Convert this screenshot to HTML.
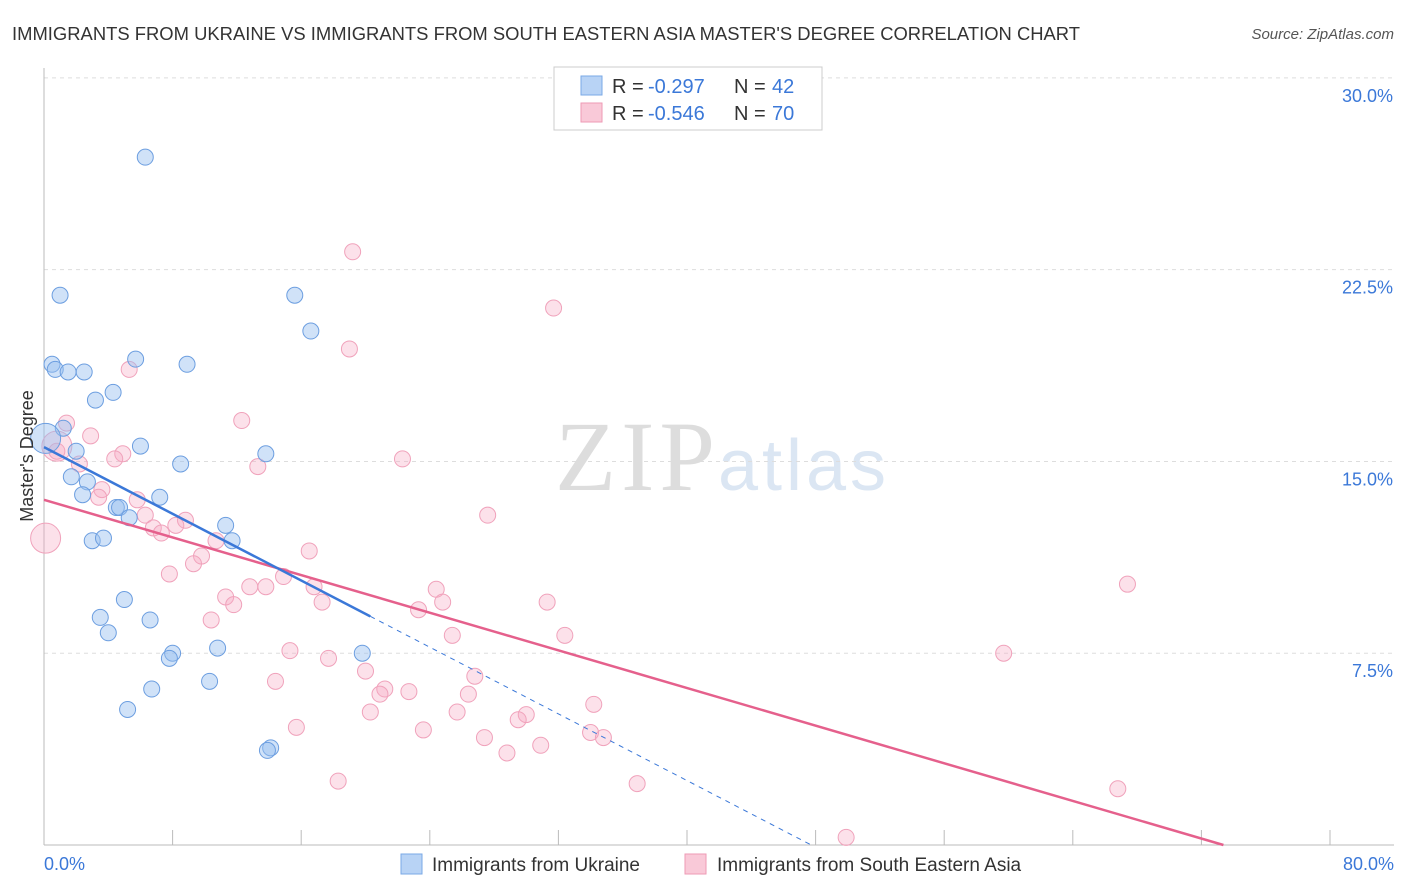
<!DOCTYPE html>
<html><head><meta charset="utf-8"><style>
body{margin:0;background:#fff;font-family:"Liberation Sans",sans-serif;}
svg{display:block}
</style></head><body>
<svg id="c" width="1406" height="892" xmlns="http://www.w3.org/2000/svg">
<text x="12" y="40" font-size="18.4" fill="#333" textLength="1068">IMMIGRANTS FROM UKRAINE VS IMMIGRANTS FROM SOUTH EASTERN ASIA MASTER'S DEGREE CORRELATION CHART</text>
<text x="1394" y="39" font-size="15" fill="#555" font-style="italic" text-anchor="end">Source: ZipAtlas.com</text>
<text x="555" y="490" font-size="100" fill="#ddd" textLength="160" font-family="Liberation Serif">ZIP</text>
<text x="718" y="490" font-size="72" fill="#dbe6f3" textLength="168">atlas</text>
<g id="grid"></g>
<g id="marks"></g>
<text transform="translate(33,456) rotate(-90)" font-size="18" fill="#333" text-anchor="middle">Master's Degree</text>
<rect x="554" y="67" width="268" height="63" fill="#fff" stroke="#ccc"/>
<rect x="581" y="76" width="21" height="19" fill="#b8d3f5" stroke="#7aa8e6"/>
<rect x="581" y="103" width="21" height="19" fill="#f9c9d8" stroke="#ee9ab5"/>
<g font-size="20" fill="#333">
<text x="612" y="93">R =</text><text x="648" y="93" fill="#3b78d8">-0.297</text><text x="734" y="93">N =</text><text x="772" y="93" fill="#3b78d8">42</text>
<text x="612" y="120">R =</text><text x="648" y="120" fill="#3b78d8">-0.546</text><text x="734" y="120">N =</text><text x="772" y="120" fill="#3b78d8">70</text>
</g>
<rect x="401" y="854" width="21" height="20" fill="#b8d3f5" stroke="#7aa8e6"/>
<text x="432" y="871" font-size="19" fill="#333">Immigrants from Ukraine</text>
<rect x="685" y="854" width="21" height="20" fill="#f9c9d8" stroke="#ee9ab5"/>
<text x="717" y="871" font-size="19" fill="#333">Immigrants from South Eastern Asia</text>
</svg>
<script>
const yTicks=[7.5,15,22.5,30];
const yTickLabels=["7.5%","15.0%","22.5%","30.0%"];
const xTickLabels=["0.0%","80.0%"];
const ukraineX=[6.3,1.0,15.6,16.6,0.5,0.7,1.5,2.5,5.7,8.9,4.3,3.2,1.2,2.0,6.0,8.5,1.7,2.7,2.4,7.2,4.5,4.7,5.3,11.3,11.7,3.0,3.7,13.8,5.0,3.5,6.6,4.0,8.0,7.8,10.8,19.8,6.7,10.3,5.2,14.1,13.9,0.1];
const ukraineY=[26.9,21.5,21.5,20.1,18.8,18.6,18.5,18.5,19.0,18.8,17.7,17.4,16.3,15.4,15.6,14.9,14.4,14.2,13.7,13.6,13.2,13.2,12.8,12.5,11.9,11.9,12.0,15.3,9.6,8.9,8.8,8.3,7.5,7.3,7.7,7.5,6.1,6.4,5.3,3.8,3.7,15.9];
const seaX=[19.2,31.7,19.0,5.3,12.3,1.4,2.9,0.8,2.2,4.9,4.4,13.3,22.3,3.6,3.4,5.8,6.3,8.8,6.8,7.3,8.2,27.6,10.7,9.8,9.3,16.5,7.8,14.9,11.3,12.8,13.8,16.8,17.3,11.8,10.4,24.4,24.8,23.3,31.3,25.4,32.4,67.4,15.3,17.7,20.0,26.8,14.4,21.2,20.9,22.7,26.4,34.2,20.3,25.7,30.0,15.7,29.5,23.6,27.4,34.0,34.8,28.8,30.9,18.3,36.9,59.7,66.8,49.9,0.1,0.8];
const seaY=[23.2,21.0,19.4,18.6,16.6,16.5,16.0,15.4,14.9,15.3,15.1,14.8,15.1,13.9,13.6,13.5,12.9,12.7,12.4,12.2,12.5,12.9,11.9,11.3,11.0,11.5,10.6,10.5,9.7,10.1,10.1,10.1,9.5,9.4,8.8,10.0,9.5,9.2,9.5,8.2,8.2,10.2,7.6,7.3,6.8,6.6,6.4,6.1,5.9,6.0,5.9,5.5,5.2,5.2,5.1,4.6,4.9,4.5,4.2,4.4,4.2,3.6,3.9,2.5,2.4,7.5,2.2,0.3,12.0,15.6];
const ukraineFit=[15.56,-0.326];
const seaFit=[13.5,-0.184];
const X=v=>44+v*16.075, Y=v=>845-v*25.57;
const NS="http://www.w3.org/2000/svg";
const g=document.getElementById('grid'), m=document.getElementById('marks');
function mk(tag,attrs,parent){const e=document.createElementNS(NS,tag);for(const k in attrs)e.setAttribute(k,attrs[k]);parent.appendChild(e);return e;}
yTicks.forEach((t,i)=>{
 const l=mk('line',{x1:44,x2:1394,y1:Y(t),y2:Y(t),stroke:'#ddd','stroke-dasharray':'4 4'},g);
 
 
 const tx=mk('text',{x:1393,y:Y(t)+24,'font-size':18,fill:'#3b78d8','text-anchor':'end'},g);
 tx.textContent=yTickLabels[i];
 
 
});
const ax=mk('line',{x1:44,x2:1394,y1:845,y2:845,stroke:'#bbb'},g);


const ay=mk('line',{x1:44,x2:44,y1:68,y2:845,stroke:'#bbb'},g);


for(let i=0;i<=10;i++){const t=mk('line',{x1:X(i*8),x2:X(i*8),y1:830,y2:845,stroke:'#bbb'},g);
 
 }
[[0,'start',44],[80,'end',1394]].forEach((d,i)=>{const t=mk('text',{x:d[2],y:870,'font-size':18,fill:'#3b78d8','text-anchor':d[1]},g);t.textContent=xTickLabels[i];
 
 });
seaX.forEach((x,i)=>{const big=i>=68;const c=mk('circle',{cx:X(x),cy:Y(seaY[i]),r:big?15:8,fill:'rgba(246,170,195,0.35)',stroke:'#f0a2bb','stroke-width':1},m);
 
 });
ukraineX.forEach((x,i)=>{const big=i==41;const c=mk('circle',{cx:X(x),cy:Y(ukraineY[i]),r:big?15:8,fill:'rgba(150,190,240,0.45)',stroke:'#6c9ee0','stroke-width':1},m);
 
 });
const xe=-seaFit[0]/seaFit[1];
const sl=mk('line',{x1:X(0),y1:Y(seaFit[0]),x2:X(xe),y2:Y(0),stroke:'#e5608c','stroke-width':2.5},m);


const ul=mk('line',{x1:X(0),y1:Y(ukraineFit[0]),x2:X(20.3),y2:Y(ukraineFit[0]+ukraineFit[1]*20.3),stroke:'#3b78d8','stroke-width':2.5},m);


const ue=-ukraineFit[0]/ukraineFit[1];
const ud=mk('line',{x1:X(20.3),y1:Y(ukraineFit[0]+ukraineFit[1]*20.3),x2:X(ue),y2:Y(0),stroke:'#3b78d8','stroke-width':1,'stroke-dasharray':'5 5'},m);


</script>
</body></html>
